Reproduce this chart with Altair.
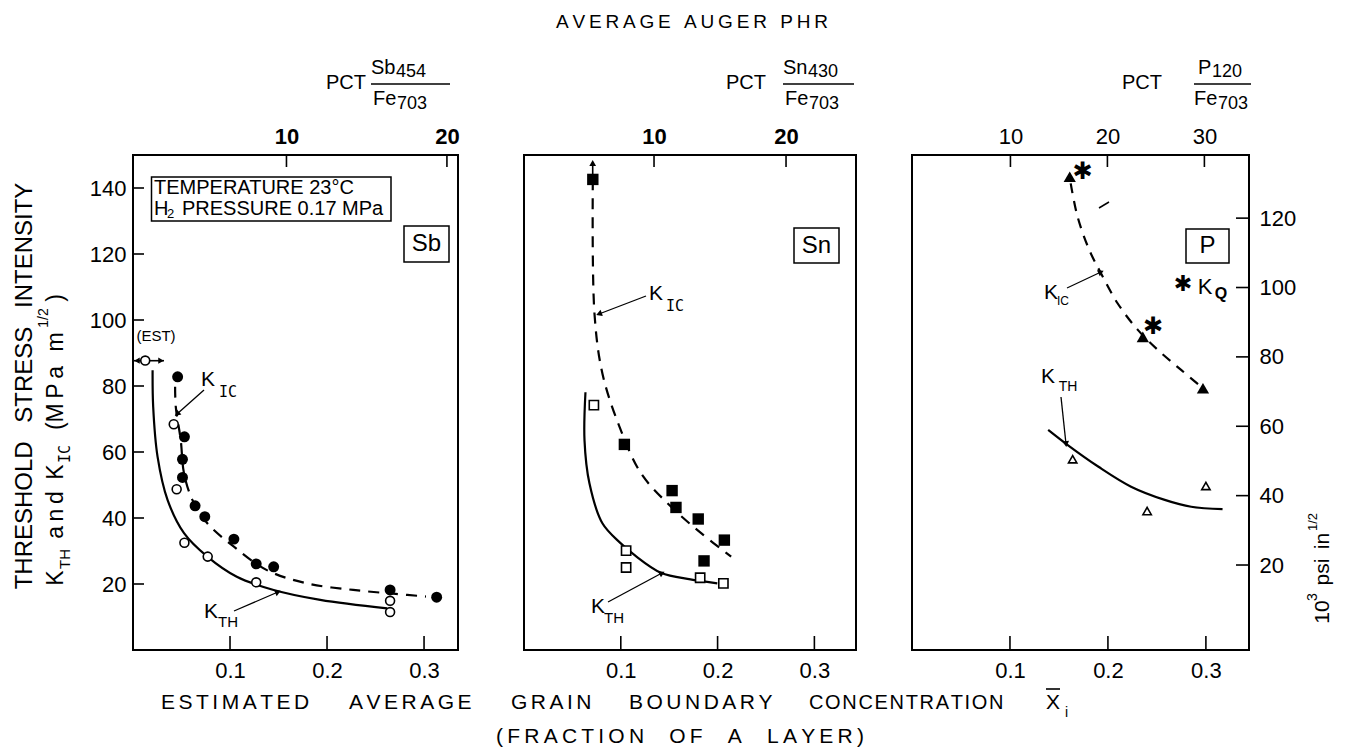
import math
import altair as alt
import pandas as pd

FONT = "Liberation Sans"
THIN = "\u2009"
SIXTH = "\u2006"
HAIR = "\u200a"
EN = "\u2002"

# ---------------- values ----------------
y_ticks = [20, 40, 60, 80, 100, 120, 140]
x_ticks = [0.1, 0.2, 0.3]
sb_top_ticks = [10, 20]
sn_top_ticks = [10, 20]
p_top_ticks = [10, 20, 30]
psi_ticks = [20, 40, 60, 80, 100, 120]

# Sb panel
sb_kic_x = [0.046, 0.053, 0.051, 0.051, 0.064, 0.074, 0.104, 0.127, 0.145, 0.265, 0.313]
sb_kic_y = [82.8, 64.6, 57.8, 52.3, 43.7, 40.4, 33.6, 26.1, 25.2, 18.2, 16.0]
sb_kth_x = [0.042, 0.045, 0.053, 0.077, 0.127, 0.265, 0.265]
sb_kth_y = [68.4, 48.7, 32.5, 28.3, 20.5, 14.9, 11.5]
sb_est_x = [0.0126]
sb_est_y = [87.7]
sb_kic_fit_x = [0.0434, 0.0441, 0.0492, 0.0526, 0.0612, 0.0766, 0.104, 0.138, 0.179, 0.227, 0.271, 0.302]
sb_kic_fit_y = [79.8, 73.7, 63.6, 53.5, 45.5, 38.4, 31.3, 24.2, 20.2, 18.2, 17.0, 16.2]
sb_kth_fit_x = [0.0202, 0.0208, 0.0253, 0.0356, 0.0526, 0.0766, 0.107, 0.145, 0.193, 0.262]
sb_kth_fit_y = [84.8, 73.7, 58.6, 45.5, 35.4, 28.3, 22.2, 18.2, 15.2, 12.6]

# Sn panel
sn_kic_x = [0.0711, 0.1037, 0.153, 0.157, 0.180, 0.207, 0.186]
sn_kic_y = [142.6, 62.3, 48.3, 43.2, 39.7, 33.3, 27.0]
sn_kth_x = [0.0722, 0.1055, 0.1055, 0.182, 0.206]
sn_kth_y = [74.2, 30.1, 25.0, 21.9, 20.2]
sn_kic_fit_x = [0.0711, 0.0728, 0.081, 0.0986, 0.121, 0.152, 0.183, 0.214]
sn_kic_fit_y = [142.6, 102.0, 83.8, 67.7, 53.5, 43.4, 35.4, 28.3]
sn_kth_fit_x = [0.0635, 0.0625, 0.0676, 0.081, 0.100, 0.114, 0.1415, 0.172, 0.1997]
sn_kth_fit_y = [78.1, 63.6, 50.5, 38.4, 32.3, 28.8, 23.4, 21.4, 20.2]

# P panel
p_kic_x = [0.161, 0.2356, 0.297]
p_kic_y = [143.4, 94.9, 79.3]
p_kq_x = [0.174, 0.246]
p_kq_y = [145.0, 98.0]
p_kth_x = [0.164, 0.240, 0.300]
p_kth_y = [57.8, 42.1, 49.7]
p_kic_fit_x = [0.162, 0.169, 0.181, 0.193, 0.210, 0.2305, 0.251, 0.275, 0.295]
p_kic_fit_y = [141.4, 131.3, 121.2, 114.1, 105.0, 97.0, 90.9, 84.8, 79.8]
p_kth_fit_x = [0.139, 0.159, 0.190, 0.2236, 0.258, 0.285, 0.317]
p_kth_fit_y = [66.7, 62.1, 55.6, 49.5, 45.5, 43.4, 42.7]

# ---------------- layout ----------------
H = 495
TOP = 155
YDOM = [0, 150]
PSI_DOM = [-4.5, 138.2]
ONE = pd.DataFrame({"a": [0]})


def sp(s, gap=THIN):
    return gap.join(list(s))


class Panel:
    def __init__(self, W, xdom, ox):
        self.W, self.xdom, self.ox, self.oy = W, xdom, ox, TOP
        self.L = []

    def xs(self):
        return alt.Scale(domain=self.xdom, nice=False, zero=False)

    def ys(self):
        return alt.Scale(domain=YDOM, nice=False, zero=False)

    def X(self, f="x"):
        return alt.X(f, type="quantitative", scale=self.xs(), axis=None)

    def Y(self, f="y"):
        return alt.Y(f, type="quantitative", scale=self.ys(), axis=None)

    # --- data marks
    def points(self, xs, ys, shape, size, hollow=False, sw=1.6, angle=None):
        df = pd.DataFrame({"x": xs, "y": ys})
        kw = dict(shape=shape, size=size, opacity=1, strokeWidth=sw, filled=True)
        if hollow:
            kw.update(fill="white", stroke="black")
        else:
            kw.update(color="black")
        if angle is not None:
            kw["angle"] = angle
        self.L.append(alt.Chart(df).mark_point(**kw).encode(x=self.X(), y=self.Y()))

    def curve(self, xs, ys, dash=None, sw=2.0):
        df = pd.DataFrame({"x": xs, "y": ys, "i": list(range(len(xs)))})
        kw = dict(color="black", strokeWidth=sw, interpolate="catmull-rom")
        if dash:
            kw["strokeDash"] = dash
        self.L.append(alt.Chart(df).mark_line(**kw).encode(
            x=self.X(), y=self.Y(), order=alt.Order("i:Q")))

    def star(self, xs, ys, size=24):
        df = pd.DataFrame({"x": xs, "y": ys})
        self.L.append(alt.Chart(df).mark_text(text="\u2731", fontSize=size, font="DejaVu Sans",
                                              color="black").encode(x=self.X(), y=self.Y()))

    # --- annotations in absolute page pixels
    def px(self, x):
        return alt.value(x - self.ox)

    def py(self, y):
        return alt.value(y - self.oy)

    def text(self, s, x, y, size, align="center", weight="normal", angle=None, font=FONT):
        kw = dict(text=s, fontSize=size, font=font, align=align, baseline="middle",
                  fontWeight=weight, color="black")
        if angle is not None:
            kw["angle"] = angle
        self.L.append(alt.Chart(ONE).mark_text(**kw).encode(x=self.px(x), y=self.py(y)))

    def rule(self, x1, y1, x2, y2, sw=1.5):
        self.L.append(alt.Chart(ONE).mark_rule(color="black", strokeWidth=sw).encode(
            x=self.px(x1), x2=self.px(x2), y=self.py(y1), y2=self.py(y2)))

    def rect(self, x1, y1, x2, y2, sw=1.5):
        self.L.append(alt.Chart(ONE).mark_rect(fill="white", stroke="black", strokeWidth=sw).encode(
            x=self.px(x1), x2=self.px(x2), y=self.py(y1), y2=self.py(y2)))

    def head(self, x, y, ang, size=45):
        self.L.append(alt.Chart(ONE).mark_point(shape="triangle-up", filled=True, color="black",
                                                size=size, opacity=1, angle=ang % 360).encode(
            x=self.px(x), y=self.py(y)))

    def arrow(self, x1, y1, x2, y2, sw=1.3, size=45):
        self.rule(x1, y1, x2, y2, sw)
        ang = math.degrees(math.atan2(x2 - x1, -(y2 - y1)))
        self.head(x2, y2, ang, size)

    # --- axes (inward ticks drawn as rules, labels from the axis)
    def _ax(self, **kw):
        base = dict(ticks=False, domain=False, grid=False, labelFont=FONT, labelColor="black",
                    title=None, labelFontSize=22)
        base.update(kw)
        return alt.Axis(**base)

    def left_axis(self):
        df = pd.DataFrame({"v": y_ticks})
        self.L.append(alt.Chart(df).mark_rule(color="black", strokeWidth=1.6).encode(
            y=alt.Y("v:Q", scale=self.ys(), axis=self._ax(orient="left", values=y_ticks, labelPadding=7)),
            x=alt.value(0), x2=alt.value(11)))

    def bottom_axis(self):
        df = pd.DataFrame({"v": x_ticks})
        self.L.append(alt.Chart(df).mark_rule(color="black", strokeWidth=1.6).encode(
            x=alt.X("v:Q", scale=self.xs(),
                    axis=self._ax(orient="bottom", values=x_ticks, format=".1f", labelPadding=10)),
            y=alt.value(H), y2=alt.value(H - 14)))

    def top_axis(self, vals, dom, bold):
        df = pd.DataFrame({"v": vals})
        self.L.append(alt.Chart(df).mark_rule(color="black", strokeWidth=1.6).encode(
            x=alt.X("v:Q", scale=alt.Scale(domain=dom, nice=False, zero=False),
                    axis=self._ax(orient="top", values=vals, format="d", labelPadding=7,
                                  labelFontWeight="bold" if bold else "normal")),
            y=alt.value(0), y2=alt.value(12)))

    def right_axis(self):
        df = pd.DataFrame({"v": psi_ticks})
        self.L.append(alt.Chart(df).mark_rule(color="black", strokeWidth=1.6).encode(
            y=alt.Y("v:Q", scale=alt.Scale(domain=PSI_DOM, nice=False, zero=False),
                    axis=self._ax(orient="right", values=psi_ticks, labelPadding=10)),
            x=alt.value(self.W - 13), x2=alt.value(self.W)))

    def chart(self):
        return alt.layer(*self.L).resolve_scale(x="independent", y="independent").properties(
            width=self.W, height=H)


def fraction(p, pct_x, num, num_sub, num_x, sub_x, den_x, bar_x1, bar_x2):
    p.text("PCT", pct_x, 83, 20)
    p.text(num, num_x, 68, 20, align="left")
    p.text(num_sub, sub_x, 72, 18, align="left")
    p.rule(bar_x1, 84, bar_x2, 84, 1.4)
    p.text("Fe", den_x, 99, 20, align="left")
    p.text("703", den_x + 24, 104, 18, align="left")


# ================= Panel 1 : Sb =================
p1 = Panel(325, [0, 0.335], 132)
p1.left_axis()
p1.bottom_axis()
p1.top_axis(sb_top_ticks, [0.436, 20.69], True)
p1.curve(sb_kth_fit_x, sb_kth_fit_y, sw=2.2)
p1.curve(sb_kic_fit_x, sb_kic_fit_y, dash=[11, 8], sw=2.2)
p1.points(sb_kic_x, sb_kic_y, "circle", 120)
p1.rule(133, 360.7, 163, 360.7, 1.6)
p1.head(136, 360.7, 270, 40)
p1.head(160, 360.7, 90, 40)
p1.points(sb_est_x, sb_est_y, "circle", 80, hollow=True)
p1.points(sb_kth_x, sb_kth_y, "circle", 80, hollow=True)
p1.text("(EST)", 155, 336, 15)
p1.rect(150.5, 177, 390, 221)
p1.text("TEMPERATURE 23\u00b0C", 153, 188, 20, align="left")
p1.text("H", 153, 209, 20, align="left")
p1.text("2", 166, 214, 13, align="left")
p1.text("PRESSURE 0.17 MPa", 181, 209, 20, align="left")
p1.rect(403, 226, 448, 262)
p1.text("Sb", 425.5, 244, 24)
p1.text("K", 207, 380, 21)
p1.text("IC", 227, 392, 15, font="DejaVu Sans Mono")
p1.arrow(203, 390, 176, 414)
p1.text("K", 210, 612, 21)
p1.text("TH", 227, 622, 15)
p1.arrow(233, 611, 277, 592)
fraction(p1, 345, "Sb", "454", 370, 395, 372, 370, 449)

# left titles (rotated)
p1.text("THRESHOLD" + EN + " STRESS" + EN + " INTENSITY", 24, 386, 24, angle=270)
p1.text("K", 55, 578, 23, angle=270)
p1.text("TH", 64, 559, 15, angle=270)
p1.text(sp("and"), 55, 515, 23, angle=270)
p1.text("K", 55, 472, 23, angle=270)
p1.text("IC", 64, 454, 15, angle=270, font="DejaVu Sans Mono")
p1.text("(" + sp("MPa"), 55, 398, 23, angle=270)
p1.text("m", 55, 342, 23, angle=270)
p1.text("1/2", 43, 318, 14, angle=270)
p1.text(")", 55, 298, 23, angle=270)

# ================= Panel 2 : Sn =================
p2 = Panel(332, [0, 0.343], 523)
p2.bottom_axis()
p2.top_axis(sn_top_ticks, [0.15, 25.3], True)
p2.curve(sn_kth_fit_x, sn_kth_fit_y, sw=2.2)
p2.curve(sn_kic_fit_x, sn_kic_fit_y, dash=[11, 8], sw=2.2)
p2.rule(591.7, 179, 591.7, 162, 1.6)
p2.head(591.7, 163, 0, 45)
p2.points(sn_kic_x, sn_kic_y, "square", 130)
p2.points(sn_kth_x, sn_kth_y, "square", 85, hollow=True)
p2.rect(793, 228, 838, 263)
p2.text("Sn", 815.5, 245.5, 24)
p2.text("K", 655, 294, 21)
p2.text("IC", 674, 306, 15, font="DejaVu Sans Mono")
p2.arrow(645, 296, 598, 314)
p2.text("K", 597, 607, 21)
p2.text("TH", 613, 618, 15)
p2.arrow(607, 602, 661, 573)
fraction(p2, 745, "Sn", "430", 782, 807, 784, 782, 853)

# overall titles
p2.text(sp("AVERAGE") + EN + THIN + sp("AUGER") + EN + THIN + sp("PHR"), 691, 22, 19)
bottom_words = [("ESTIMATED", 160, 21, SIXTH), ("AVERAGE", 348, 21, SIXTH),
                ("GRAIN", 510, 21, SIXTH), ("BOUNDARY", 628, 21, SIXTH),
                ("CONCENTRATION", 808, 20, HAIR)]
for w, x, fs, g in bottom_words:
    p2.text(sp(w, g), x, 703, fs, align="left")
p2.text("X", 1045, 703, 21, align="left")
p2.rule(1045, 689, 1059, 689, 1.6)
p2.text("i", 1064, 713, 14, align="left")
gap = EN + EN + THIN
p2.text("(" + THIN + sp("FRACTION") + gap + sp("OF") + gap + "A" + gap + sp("LAYER") + THIN + ")",
        679, 737, 21)

# ================= Panel 3 : P =================
p3 = Panel(337, [0, 0.344], 911)
p3.bottom_axis()
p3.top_axis(p_top_ticks, [-0.15, 34.6], False)
p3.right_axis()
p3.curve(p_kth_fit_x, p_kth_fit_y, sw=2.2)
p3.curve(p_kic_fit_x, p_kic_fit_y, dash=[10, 8], sw=2.2)
p3.points(p_kic_x, p_kic_y, "triangle-up", 150)
p3.points(p_kth_x, p_kth_y, "triangle-up", 70, hollow=True)
p3.star(p_kq_x, p_kq_y, 24)
p3.rule(1098, 208, 1108, 202, 1.5)
p3.rect(1185, 229, 1228, 263)
p3.text("P", 1206.5, 246, 24)
p3.text("\u2731", 1182, 284, 22, font="DejaVu Sans")
p3.text("K", 1204, 287, 22)
p3.text("Q", 1220, 294, 16, weight="bold")
p3.text("K", 1050, 293, 21)
p3.text("IC", 1062, 301, 12)
p3.arrow(1066, 288, 1100, 272)
p3.text("K", 1047, 377, 21)
p3.text("TH", 1067, 387, 14)
p3.arrow(1060, 397, 1065, 444)
fraction(p3, 1141, "P", "120", 1197, 1211, 1193, 1193, 1250)
# right title (rotated)
p3.text("10", 1322, 612, 21, angle=270)
p3.text("3", 1312, 597, 14, angle=270)
p3.text("psi", 1322, 572, 21, angle=270)
p3.text("in", 1322, 541, 21, angle=270)
p3.text("1/2", 1312, 522, 13, angle=270)

inner = alt.hconcat(p2.chart(), p3.chart(), spacing=56, bounds="flush")
chart = alt.hconcat(p1.chart(), inner, spacing=66, bounds="flush").configure_view(
    stroke="black", strokeWidth=2
).properties(padding={"left": 11, "top": 12, "right": 5, "bottom": 0}, background="white")

chart.save("out.html", embed_options={"renderer": "svg", "actions": False})
